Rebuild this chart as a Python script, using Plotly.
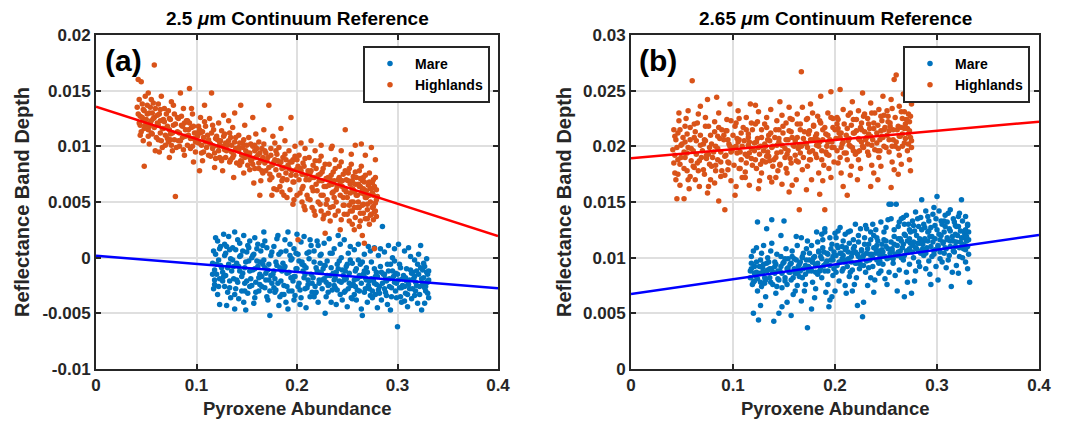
import plotly.graph_objects as go

# ---------------- data ----------------
# points as (x in thousandths of abundance, y in 1e-5 band-depth units)
MARE_A = [
(116,-150),(117,60),(118,-240),(119,180),(120,-60),(121,-330),(122,-20),(123,-420),(124,100),(118,-110),(121,150),(123,-190),(117,-280),(124,-70),
(126,-130),(127,210),(128,-260),(129,40),(130,-430),(131,-90),(132,190),(133,-210),(134,-10),(128,120),(131,-310),(133,70),(127,-170),(134,-360),
(136,90),(137,-190),(138,230),(139,-280),(140,-50),(141,160),(142,-370),(143,-120),(144,20),(138,-460),(141,-220),(143,130),(137,-80),(145,-300),
(146,-140),(147,200),(148,-230),(149,-470),(150,50),(151,-320),(152,-30),(153,150),(154,-190),(148,-90),(151,110),(153,-260),(147,-400),(155,0),
(156,-110),(157,-410),(158,180),(159,-220),(160,-30),(161,120),(162,-300),(163,-150),(164,60),(158,-360),(161,-80),(163,-240),(157,30),(165,-170),
(166,-60),(167,230),(168,-270),(169,-140),(170,90),(171,-380),(172,-200),(173,-520),(174,20),(168,150),(171,-110),(173,-300),(167,-20),(175,-230),
(176,-150),(177,100),(178,-310),(179,-40),(180,170),(181,-230),(182,-430),(183,-90),(184,50),(178,-190),(181,200),(183,-350),(177,-270),(185,-120),
(186,-50),(187,-250),(188,160),(189,-400),(190,-140),(191,230),(192,-300),(193,20),(194,-180),(188,-80),(191,-460),(193,120),(187,-330),(195,-10),
(196,-210),(197,80),(198,-340),(199,-100),(200,210),(201,-260),(202,-30),(203,-420),(204,140),(198,-170),(201,30),(203,-290),(197,-380),(205,-60),
(206,-120),(207,190),(208,-280),(209,-450),(210,40),(211,-200),(212,-10),(213,-350),(214,110),(208,-150),(211,-240),(213,160),(207,-70),(215,-310),
(216,-180),(217,60),(218,-320),(219,-90),(220,150),(221,-400),(222,-230),(223,20),(224,-130),(218,-260),(221,110),(223,-50),(217,-350),(225,-200),
(226,-100),(227,130),(228,-500),(229,-220),(230,-30),(231,-310),(232,170),(233,-160),(234,-400),(228,-70),(231,-250),(233,40),(227,-190),(235,-290),
(236,-140),(237,80),(238,-270),(239,-420),(240,-60),(241,200),(242,-210),(243,-330),(244,0),(238,-180),(241,-100),(243,120),(237,-250),(245,-380),
(246,-160),(247,160),(248,-300),(249,-80),(250,-440),(251,40),(252,-230),(253,-20),(254,-360),(248,-120),(251,-280),(253,100),(247,-200),(255,-50),
(256,-240),(257,70),(258,-120),(259,-380),(260,-190),(261,120),(262,-300),(263,-60),(264,-460),(258,-260),(261,-20),(263,-170),(257,-330),(265,-520),
(266,-150),(267,30),(268,-280),(269,-90),(270,-400),(271,100),(272,-210),(273,-340),(274,-40),(268,-180),(271,-250),(273,60),(267,-120),(275,-300),
(276,-200),(277,90),(278,-330),(279,-130),(280,-450),(281,20),(282,-260),(283,-80),(284,-380),(278,-170),(281,-290),(283,80),(277,-230),(285,280),
(286,-150),(287,50),(288,-310),(289,-210),(290,-420),(291,110),(292,-260),(293,-60),(294,-350),(288,-190),(291,-120),(293,-470),(287,-280),(295,0),
(296,-170),(297,80),(298,-300),(299,-230),(300,-620),(301,120),(302,-270),(303,-90),(304,-400),(298,-140),(301,-200),(303,-350),(297,-30),(305,-250),
(306,-160),(307,60),(308,-320),(309,-210),(310,-440),(311,90),(312,-280),(313,-110),(314,-370),(308,-180),(311,-240),(313,10),(307,-390),(315,-130),
(316,-190),(317,-20),(318,-300),(319,-120),(320,-410),(321,30),(322,-260),(323,-90),(324,-470),(318,-220),(321,-150),(323,110),(317,-340),(325,-240),
(326,-180),(327,-80),(328,-300),(329,-130),(330,-220),(331,-360),(326,-50),(328,-260),(330,-150),(327,-410),(329,-10),(331,-200),
(116,-50),(118,-200),(119,30),(120,-150),(122,-260),(123,80),(125,-90),(126,-210),(128,20),(129,-160),(130,100),(132,-60),(133,-270),(135,-120),
(136,-20),(138,-330),(139,70),(140,-200),(142,-80),(143,10),(145,-170),(146,60),(148,-300),(149,-40),(150,-210),(152,90),(153,-120),(155,-250),
(156,20),(158,-100),(159,-310),(160,80),(162,-180),(163,-40),(165,-260),(166,110),(168,-90),(169,-200),(170,-350),(172,-60),(174,-160),(175,50),
(177,-120),(179,-290),(180,-70),(182,30),(184,-210),(185,-330),(187,-100),(189,60),(190,-260),(192,-130),(194,-20),(195,-300),(197,-170),(199,40),
(200,-100),(202,-230),(204,-360),(205,-40),(207,-180),(209,-90),(210,-270),(212,50),(214,-150),(215,-230),(217,-40),(219,-310),(220,-120),(222,-200),
(224,30),(225,-280),(227,-70),(229,-350),(230,-160),(232,-240),(234,-90),(235,40),(237,-200),(239,-130),(240,-290),(242,-30),(244,-220),(245,-110),
(247,-310),(249,-190),(250,-60),(252,-140),(254,-250),(255,-370),(257,-200),(259,-100),(260,-290),(262,-160),(264,-230),(265,-40),(267,-310),(269,-200),
(270,-130),(272,-280),(274,-190),(275,-360),(277,-100),(279,-240),(280,-170),(282,-320),(284,-130),(285,-230),(287,-150),(289,-340),(290,-60),(292,-190),
(294,-270),(295,-120),(297,-220),(299,-360),(300,-150),(302,-60),(304,-270),(305,-190),(307,-260),(309,-100),(310,-330),(312,-200),(314,-140),(315,-280),
(317,-170),(319,-250),(320,-60),(322,-330),(324,-190),(325,-110),(327,-270),(329,-220),(330,-320),(331,-120),
]
HIGH_A = [
(41,1350),(42,1600),(43,1210),(44,1270),(45,1580),(45,1130),(46,1380),(47,1240),(48,820),(48,1320),(49,1190),(49,1450),(44,1100),(47,1050),
(51,1290),(52,1150),(52,1480),(53,1020),(54,1350),(55,1230),(56,1110),(57,1390),(58,1730),(58,1260),(59,960),(53,1180),(56,1300),(55,1420),
(61,1210),(62,1060),(62,1380),(63,1290),(64,1120),(65,1450),(66,990),(67,1240),(68,1340),(69,1100),(64,1230),(67,1160),(63,950),
(71,1180),(72,1320),(72,1040),(73,1250),(74,1110),(75,1400),(76,960),(77,1190),(78,1290),(79,550),(74,1060),(77,1370),(73,900),
(81,1130),(82,1250),(83,1000),(84,1480),(85,1190),(86,1080),(87,1340),(88,920),(89,1150),(85,1270),(82,1050),(88,1210),
(91,1230),(92,1100),(93,1520),(94,980),(95,1170),(96,1290),(97,860),(98,1120),(99,1040),(95,1340),(93,1210),(97,1070),
(101,1090),(102,1180),(103,780),(104,1260),(105,1010),(106,1130),(107,950),(108,1370),(109,1040),(104,1120),(106,870),(108,1220),
(111,1100),(112,920),(113,1250),(114,1020),(115,1480),(116,980),(117,1150),(118,810),(119,1070),(113,1030),(116,1190),(118,940),
(121,1060),(122,1210),(123,900),(124,1050),(125,1140),(126,780),(127,1280),(128,970),(129,1030),(124,890),(127,1090),(122,1000),
(131,1010),(132,1230),(133,860),(134,1080),(135,950),(136,1170),(137,720),(138,1040),(139,980),(133,1120),(136,900),(138,1300),
(141,980),(142,1100),(143,830),(144,1370),(145,920),(146,1030),(147,760),(148,1190),(149,960),(144,870),(147,1060),(142,990),
(151,940),(152,1080),(153,790),(154,1020),(155,880),(156,1260),(157,670),(158,960),(159,1110),(153,900),(156,840),(158,1010),
(161,920),(162,1040),(163,560),(164,870),(165,980),(166,760),(167,1150),(168,850),(169,940),(164,690),(167,1020),(162,800),
(171,900),(172,1370),(173,750),(174,980),(175,830),(176,1090),(177,620),(178,880),(179,960),(173,700),(176,840),(178,1030),
(181,870),(182,990),(183,640),(184,1160),(185,800),(186,900),(187,560),(188,1050),(189,760),(183,850),(186,710),(188,930),
(191,830),(192,960),(193,610),(194,1260),(195,780),(196,880),(197,520),(198,1000),(199,740),(193,860),(196,680),(198,910),
(201,160),(201,820),(202,920),(203,580),(204,1030),(205,750),(206,850),(207,460),(208,980),(209,700),(203,800),(206,640),(208,890),
(211,780),(212,900),(213,520),(214,1050),(215,720),(216,830),(217,420),(218,960),(219,660),(213,760),(216,600),(218,870),
(221,740),(222,870),(223,480),(224,1010),(225,690),(226,800),(227,380),(228,220),(229,640),(223,750),(226,560),(228,840),(224,910),
(231,720),(232,840),(233,450),(234,980),(235,660),(236,770),(237,540),(238,880),(239,610),(233,700),(236,590),(238,800),(235,1000),
(241,700),(242,820),(243,250),(244,960),(245,640),(246,750),(247,390),(248,1150),(249,590),(243,680),(246,540),(248,780),(244,860),(247,610),
(251,690),(252,800),(253,420),(254,930),(255,620),(256,730),(257,250),(258,1010),(259,560),(253,660),(256,500),(258,770),(254,840),(257,590),(252,470),
(261,660),(262,780),(263,400),(264,1020),(265,600),(266,720),(267,130),(268,920),(269,540),(263,640),(266,480),(268,740),(264,820),(267,570),(262,450),(265,690),
(271,650),(272,760),(273,380),(274,990),(275,580),(276,700),(277,80),(278,880),(279,520),(273,620),(276,460),(278,720),(272,560),(275,670),(277,410),
(42,1290),(43,1420),(44,1190),(46,1260),(47,1330),(48,1160),(50,1240),(51,1370),(52,1090),(53,1300),(54,1210),(55,1120),(57,1250),(58,1170),
(59,1340),(60,1080),(61,1280),(62,1190),(64,1330),(65,1050),(66,1160),(68,1220),(69,1010),(70,1290),(71,1070),(73,1150),(74,1240),(75,1010),
(76,1120),(78,1060),(79,1200),(80,990),(81,1260),(83,1120),(84,1050),(86,1180),(87,970),(89,1090),(90,1230),(91,1010),(92,1150),(94,1070),
(96,1000),(97,1180),(99,950),(100,1120),(102,1030),(103,1150),(105,940),(107,1080),(109,1180),(110,990),(112,1060),(114,910),(115,1120),(117,1000),
(119,890),(120,1090),(122,960),(123,1040),(125,870),(126,1000),(128,1110),(129,900),(130,960),(132,1050),(134,880),(135,1010),(137,920),(139,1080),
(140,850),(142,960),(143,1030),(145,860),(146,990),(148,900),(150,1010),(151,830),(153,940),(154,870),(156,1000),(158,800),(159,900),(160,980),
(162,850),(163,940),(165,780),(166,900),(168,960),(169,780),(170,870),(172,810),(174,920),(175,720),(177,860),(179,790),(180,930),(182,740),
(184,860),(185,690),(187,810),(189,880),(190,700),(192,800),(194,740),(195,860),(197,680),(199,790),(200,880),(202,700),(204,780),(205,620),
(207,820),(209,740),(210,560),(212,700),(214,780),(215,630),(217,720),(219,800),(220,600),(222,690),(224,560),(225,770),(227,640),(229,710),
(230,520),(232,650),(234,740),(235,580),(237,690),(239,500),(240,640),(242,720),(243,560),(245,690),(246,470),(248,620),(249,700),(250,540),
(251,760),(253,580),(254,500),(255,690),(256,610),(257,450),(258,660),(259,720),(260,560),(261,500),(262,640),(263,710),(264,580),(265,470),
(266,620),(267,680),(268,540),(269,600),(270,480),(271,560),(272,680),(273,500),(274,620),(275,450),(276,560),(277,640),(278,490),(279,610),
(280,550),(255,300),(262,280),(270,350),(265,200),
(215,450),(218,380),(221,500),(224,420),(226,350),(229,480),(231,400),(233,330),(236,460),(238,380),(241,420),(244,340),(247,470),(250,390),
(252,330),(255,420),(258,360),(260,450),(263,330),(266,400),(268,350),(270,430),(272,300),(274,390),(276,340),(278,420),(279,370),(205,500),
(208,430),(211,530),(200,560),(196,480),(190,540),(185,590),(180,610),(175,560),
]
MARE_B = [
(117,880),(118,1010),(119,760),(120,500),(121,920),(122,840),(123,1090),(124,700),(125,440),(118,950),(121,790),(123,870),(120,1060),(124,1320),
(126,860),(127,980),(128,740),(129,910),(130,1110),(131,820),(132,650),(133,1260),(134,890),(128,1040),(131,770),(133,950),(127,570),(134,1000),
(136,900),(137,780),(138,1130),(139,870),(140,430),(141,960),(142,680),(143,1030),(144,810),(138,1340),(141,920),(143,740),(137,1060),(145,500),
(146,880),(147,1010),(148,730),(149,950),(150,1330),(151,820),(152,1080),(153,600),(154,910),(148,560),(151,990),(153,760),(147,1200),(155,870),
(156,940),(157,800),(158,1060),(159,670),(160,990),(161,860),(162,1190),(163,750),(164,920),(158,1010),(161,700),(163,1110),(157,480),(165,830),
(166,960),(167,1180),(168,820),(169,1040),(170,700),(171,930),(172,1080),(173,370),(174,880),(168,1010),(171,760),(173,1150),(167,610),(175,980),
(176,900),(177,1110),(178,780),(179,1000),(180,640),(181,930),(182,1230),(183,850),(184,1050),(178,960),(181,720),(183,1140),(177,540),(185,880),
(186,1010),(187,820),(188,1160),(189,930),(190,1260),(191,690),(192,1040),(193,880),(194,560),(188,1090),(191,950),(193,760),(187,1210),(195,620),
(196,980),(197,1120),(198,840),(199,1050),(200,700),(201,1180),(202,930),(203,1090),(204,790),(198,1010),(201,870),(203,1240),(197,650),(205,960),
(206,1040),(207,880),(208,1150),(209,960),(210,750),(211,1090),(212,920),(213,1230),(214,830),(208,1020),(211,680),(213,990),(207,1100),(215,870),
(216,1010),(217,890),(218,1160),(219,760),(220,1050),(221,950),(222,570),(223,1200),(224,900),(218,1080),(221,820),(223,1010),(217,700),(225,940),
(226,1060),(227,470),(228,930),(229,1180),(230,870),(231,1040),(232,750),(233,1120),(234,980),(228,600),(231,1260),(233,910),(227,1000),(235,820),
(236,1030),(237,920),(238,1200),(239,800),(240,1080),(241,980),(242,1150),(243,860),(244,1020),(238,690),(241,1110),(243,950),(237,1300),(245,880),
(246,1070),(247,940),(248,1230),(249,810),(250,1100),(251,990),(252,1340),(253,870),(254,1040),(248,1160),(251,760),(253,1480),(247,1010),(255,1480),
(256,1080),(257,950),(258,1250),(259,840),(260,1480),(261,1020),(262,1170),(263,890),(264,1060),(258,1120),(261,700),(263,1320),(257,990),(265,1150),
(266,1090),(267,980),(268,650),(269,1200),(270,870),(271,1060),(272,1300),(273,940),(274,1130),(268,1020),(271,780),(273,1170),(267,1360),(275,680),
(276,1110),(277,1000),(278,1240),(279,880),(280,1080),(281,1350),(282,960),(283,1170),(284,1040),(278,790),(281,1130),(283,920),(277,1290),(285,1520),
(286,1120),(287,1020),(288,1270),(289,900),(290,1090),(291,1370),(292,970),(293,1190),(294,760),(288,1060),(291,1230),(293,850),(287,1150),(295,1010),
(296,1140),(297,1030),(298,1290),(299,920),(300,1550),(301,1100),(302,1210),(303,990),(304,1330),(298,1070),(301,800),(303,1160),(297,1450),(305,960),
(306,1130),(307,1040),(308,1280),(309,910),(310,1180),(311,1400),(312,1020),(313,1240),(314,740),(308,1090),(311,980),(313,1150),(307,1330),(315,870),
(316,1150),(317,1050),(318,1290),(319,930),(320,1200),(321,1370),(322,1010),(323,1240),(324,1520),(318,1100),(321,860),(323,1140),(317,1320),(325,1000),
(326,1080),(327,1220),(328,960),(329,1150),(330,1300),(331,1030),(332,780),(326,1180),(328,1250),(330,900),(327,1110),(331,1230),
(117,820),(118,900),(120,780),(121,860),(123,960),(124,810),(126,920),(127,780),(129,870),(130,940),(132,800),(133,880),(135,960),(136,820),
(138,900),(139,760),(141,860),(142,940),(144,880),(145,800),(147,920),(148,860),(150,960),(151,790),(153,900),(154,990),(156,870),(157,950),
(159,820),(160,900),(162,980),(163,860),(165,940),(166,880),(168,1000),(169,900),(171,850),(172,980),(174,920),(175,1040),(177,880),(178,960),
(180,1010),(181,870),(183,950),(184,1060),(186,910),(187,990),(189,1050),(190,880),(192,970),(193,1030),(195,930),(196,1080),(198,980),(199,900),
(201,1020),(202,1110),(204,960),(205,1040),(207,990),(208,900),(210,1070),(211,980),(213,1050),(214,1130),(216,960),(217,1040),(219,1100),(220,950),
(222,1030),(223,1140),(225,990),(226,1070),(228,1020),(229,1120),(231,970),(232,1080),(234,1030),(235,1160),(237,1000),(238,1090),(240,1040),(241,1180),
(243,1060),(244,970),(246,1120),(247,1050),(249,1010),(250,1150),(252,1080),(253,1000),(255,1140),(256,1060),(258,1190),(259,1030),(261,1110),(262,1050),
(264,1170),(265,1000),(267,1120),(268,1210),(270,1060),(271,1150),(273,1080),(274,1230),(276,1050),(277,1140),(279,1090),(280,1200),(282,1060),(283,1130),
(285,1250),(286,1080),(288,1170),(289,1040),(291,1150),(292,1240),(294,1100),(295,1190),(297,1060),(298,1170),(300,1250),(301,1110),(303,1050),(304,1200),
(306,1140),(307,1230),(309,1080),(310,1160),(312,1260),(313,1100),(315,1190),(316,1060),(318,1210),(319,1140),(321,1280),(322,1090),(324,1180),(325,1120),
(327,1240),(328,1070),(329,1190),(330,1100),(331,1160),
(262,1280),(265,1350),(268,1300),(270,1380),(273,1250),(276,1330),(279,1410),(282,1280),(284,1360),(287,1300),(289,1420),(292,1330),(294,1270),(296,1390),
(299,1350),(302,1420),(305,1300),(308,1380),(310,1320),(313,1430),(316,1350),(319,1280),(322,1400),(325,1330),(328,1370),(330,1290),(240,1250),(245,1320),
(250,1270),(255,1350),(235,1230),(230,1290),(225,1260),(220,1300),(215,1240),(210,1210),(205,1270),(200,1220),(195,1180),(190,1230),
]
HIGH_B = [
(41,1970),(42,2150),(43,1760),(44,2060),(45,1530),(46,1880),(47,2230),(48,1650),(49,2010),(43,1920),(46,2120),(48,1840),(44,1700),(47,2300),
(51,2080),(52,1530),(53,1900),(54,2250),(55,1780),(56,1990),(57,1620),(58,2170),(59,1870),(53,2040),(56,2320),(58,1730),(52,1950),(55,2110),
(60,2590),(61,1960),(62,2200),(63,1700),(64,2050),(65,1850),(66,2290),(67,1640),(68,2010),(69,1900),(63,2130),(66,1780),(68,2360),(62,1810),
(71,2020),(72,1750),(73,2180),(74,1890),(75,2420),(76,1640),(77,1990),(78,2100),(79,1820),(73,2260),(76,1930),(78,1700),(72,2060),(75,1580),
(81,1950),(82,2220),(83,1780),(84,2440),(85,1880),(86,1510),(87,2070),(88,1730),(89,2150),(83,2000),(86,2300),(88,1860),(82,1670),(85,2090),
(91,2100),(92,1430),(93,1920),(94,2240),(95,1790),(96,2020),(97,2380),(98,1690),(99,1960),(93,2140),(96,1850),(98,2230),(92,1740),(95,2060),
(101,1990),(102,2180),(103,1640),(104,2070),(105,2320),(106,1800),(107,1950),(108,2120),(109,1720),(103,2000),(106,2250),(108,1880),(102,1560),(105,2040),
(111,2050),(112,1770),(113,2260),(114,1910),(115,2080),(116,1650),(117,2380),(118,1980),(119,1830),(113,2150),(116,1940),(118,2210),(112,1720),(115,2010),
(121,1960),(122,2200),(123,1800),(124,2070),(125,2310),(126,1690),(127,2000),(128,2150),(129,1870),(123,2040),(126,1930),(128,1760),(122,2370),(125,1620),
(131,2020),(132,1860),(133,2260),(134,1950),(135,2100),(136,1720),(137,2330),(138,1990),(139,1820),(133,2170),(136,2050),(138,1680),(132,2000),(135,1910),
(141,2080),(142,1900),(143,2230),(144,1780),(145,2040),(146,2400),(147,1950),(148,1660),(149,2120),(143,2010),(146,1840),(148,2280),(142,1720),(145,2150),
(151,1980),(152,2210),(153,1760),(154,2060),(155,2350),(156,1890),(157,2130),(158,1650),(159,2010),(153,1930),(156,2250),(158,2080),(152,1800),(155,1590),
(161,2050),(162,1870),(163,2290),(164,1980),(165,1430),(166,2150),(167,2670),(168,1790),(169,2070),(163,2200),(166,1940),(168,2350),(162,1700),(165,2010),
(171,2030),(172,2240),(173,1820),(174,2110),(175,1950),(176,2380),(177,1700),(178,2060),(179,2190),(173,1990),(176,1880),(178,2300),(172,1610),(175,2140),
(181,2090),(182,1900),(183,2270),(184,1760),(185,2040),(186,2450),(187,1960),(188,2150),(189,1830),(183,2060),(186,2210),(188,1690),(182,2010),(185,1570),
(190,1430),(191,2110),(192,1930),(193,2300),(194,1800),(195,2060),(196,2490),(197,1990),(198,2170),(199,1860),(193,2040),(196,1720),(198,2250),(192,2000),
(201,2070),(202,2200),(203,1850),(204,2120),(205,2510),(206,1760),(207,2020),(208,2330),(209,1940),(203,2160),(206,1990),(208,1640),(202,2260),(205,2080),
(211,2100),(212,1880),(213,2280),(214,2010),(215,1740),(216,2190),(217,2400),(218,1960),(219,2120),(213,2050),(216,1820),(218,2240),(212,1560),(215,2000),
(221,2140),(222,1950),(223,2320),(224,2060),(225,1800),(226,2210),(227,2480),(228,1990),(229,2130),(223,1880),(226,2040),(228,2270),(222,1700),(225,2170),
(231,2080),(232,2250),(233,1920),(234,2160),(235,2390),(236,1830),(237,2060),(238,2210),(239,1970),(233,2110),(236,2300),(238,1760),(232,2020),(235,1640),
(241,2120),(242,1960),(243,2330),(244,2060),(245,1820),(246,2230),(247,2450),(248,2000),(249,2170),(243,1900),(246,2090),(248,2280),(242,1700),(245,2140),
(251,2100),(252,2270),(253,1950),(254,2180),(255,2420),(256,1860),(257,2060),(258,2600),(259,2000),(253,2140),(256,2340),(258,1790),(252,2220),(255,1630),
(260,2640),(261,2150),(262,1980),(263,2360),(264,2090),(265,1840),(266,2250),(267,2470),(268,2030),(269,2200),(263,1920),(266,2110),(268,2310),(262,1750),(265,2170),
(271,2160),(272,2290),(273,1880),(274,2080),(275,2380),(271,1960),(273,2220),(274,1780),(275,2050),(272,2110),
(42,1850),(43,2090),(45,1990),(46,1750),(48,2150),(49,1900),(50,2020),(52,1800),(53,2180),(55,1940),(56,1700),(58,2060),(59,1980),(61,1820),
(62,2080),(64,1930),(65,2210),(67,1870),(68,2100),(70,1960),(71,1790),(73,2050),(74,1920),(76,2180),(77,1840),(79,2020),(80,1900),(82,2130),
(83,1830),(85,1980),(86,2170),(88,1950),(89,1780),(91,2060),(92,1910),(94,2140),(95,1860),(97,2000),(98,1950),(100,2100),(101,1830),(103,2210),
(104,1940),(106,2060),(107,1800),(109,2000),(110,2170),(112,1930),(113,1850),(115,2110),(116,2040),(118,1890),(119,2150),(121,2030),(122,1880),(124,2220),
(125,1990),(127,1840),(128,2080),(130,1960),(131,2200),(133,1910),(134,2060),(136,1870),(137,2120),(139,2000),(140,1880),(142,2150),(143,1940),(145,2070),
(146,1830),(148,2010),(149,2180),(151,1900),(152,2060),(154,1960),(155,2140),(157,1850),(158,2240),(160,2000),(161,1920),(163,2080),(164,1860),(166,2200),
(167,2000),(169,1900),(170,2130),(172,2020),(173,2250),(175,1880),(176,2060),(178,1960),(179,2180),(181,1930),(182,2110),(184,2000),(185,2230),(187,1880),
(188,2060),(190,2170),(191,1950),(193,2100),(194,1920),(196,2260),(197,2040),(199,1990),(200,2150),(202,1960),(203,2240),(205,1900),(206,2120),(208,2040),
(209,2200),(211,1940),(212,2160),(214,2070),(215,2300),(217,1990),(218,2120),(220,1930),(221,2240),(223,2070),(224,1960),(226,2150),(227,2000),(229,2290),
(230,2060),(232,1950),(233,2200),(235,2090),(236,2010),(238,2160),(239,2300),(241,2030),(242,2190),(244,1960),(245,2270),(247,2080),(248,2150),(250,1990),
(251,2320),(253,2060),(254,2210),(256,2000),(257,2150),(259,2260),(260,2040),(262,2180),(263,2090),(265,2310),(266,2000),(268,2160),(269,2070),(270,2240),
(272,2020),(273,2140),(274,2270),(275,1990),
]

# regression lines (endpoints at x = 0 and x = 0.4)
FIT_X = [0.0, 0.4]
FIT_MARE_A = [0.00018, -0.00275]
FIT_HIGH_A = [0.01356, 0.00195]
FIT_MARE_B = [0.00674, 0.01204]
FIT_HIGH_B = [0.01892, 0.02221]

X_TICKS = [0, 0.1, 0.2, 0.3, 0.4]
X_TICKTEXT = ["0", "0.1", "0.2", "0.3", "0.4"]
YA_TICKS = [-0.01, -0.005, 0, 0.005, 0.01, 0.015, 0.02]
YA_TICKTEXT = ["-0.01", "-0.005", "0", "0.005", "0.01", "0.015", "0.02"]
YB_TICKS = [0, 0.005, 0.01, 0.015, 0.02, 0.025, 0.03]
YB_TICKTEXT = ["0", "0.005", "0.01", "0.015", "0.02", "0.025", "0.03"]

TITLES = ["2.5 <i>μ</i>m Continuum Reference", "2.65 <i>μ</i>m Continuum Reference"]
PANEL_LABELS = ["(a)", "(b)"]


def xs(pts):
    return [p[0] / 1000.0 for p in pts]


def ys(pts):
    return [p[1] / 100000.0 for p in pts]


# ---------------- styling ----------------
BLUE = "#0072BD"
ORANGE = "#D95319"
FONT = "Liberation Sans"
AX = "#262626"
W, H = 1082, 421

fig = go.Figure()

for pts, name, col, xa, ya, leg in [
    (MARE_A, "Mare", BLUE, "x", "y", "legend"),
    (HIGH_A, "Highlands", ORANGE, "x", "y", "legend"),
    (MARE_B, "Mare", BLUE, "x2", "y2", "legend2"),
    (HIGH_B, "Highlands", ORANGE, "x2", "y2", "legend2"),
]:
    fig.add_trace(go.Scatter(
        x=xs(pts), y=ys(pts), mode="markers", name=name,
        marker=dict(color=col, size=5.5, line=dict(width=0)),
        xaxis=xa, yaxis=ya, legend=leg, showlegend=True))

for yv, col, xa, ya in [
    (FIT_HIGH_A, "#FF0000", "x", "y"),
    (FIT_MARE_A, "#0000FF", "x", "y"),
    (FIT_HIGH_B, "#FF0000", "x2", "y2"),
    (FIT_MARE_B, "#0000FF", "x2", "y2"),
]:
    fig.add_trace(go.Scatter(
        x=FIT_X, y=yv, mode="lines", line=dict(color=col, width=2.5),
        xaxis=xa, yaxis=ya, showlegend=False, hoverinfo="skip"))


def px_x(p):
    return p / W


def px_y(p):
    return (H - p) / H


tickfont = dict(family=FONT, size=17, color=AX, weight="bold")
axis_common = dict(
    showline=True, linecolor=AX, linewidth=2, mirror="allticks",
    ticks="inside", ticklen=5, tickwidth=1.5, tickcolor=AX,
    showgrid=True, gridcolor="#dfdfdf", gridwidth=1.5, zeroline=False,
    tickfont=tickfont, automargin=False,
)

dom_a = [px_x(96), px_x(498)]
dom_b = [px_x(631), px_x(1039)]
dom_y = [px_y(369), px_y(35)]

legend_style = dict(xanchor="right", yanchor="top",
                    bordercolor=AX, borderwidth=2, bgcolor="white",
                    font=dict(family=FONT, size=14, color="black", weight="bold"),
                    itemsizing="trace", tracegroupgap=0, itemwidth=40)

fig.update_layout(
    width=W, height=H, margin=dict(l=0, r=0, t=0, b=0),
    paper_bgcolor="white", plot_bgcolor="white",
    xaxis=dict(domain=dom_a, range=[0, 0.4], tickvals=X_TICKS, ticktext=X_TICKTEXT, anchor="y", **axis_common),
    yaxis=dict(domain=dom_y, range=[-0.01, 0.02], tickvals=YA_TICKS, ticktext=YA_TICKTEXT, anchor="x", **axis_common),
    xaxis2=dict(domain=dom_b, range=[0, 0.4], tickvals=X_TICKS, ticktext=X_TICKTEXT, anchor="y2", **axis_common),
    yaxis2=dict(domain=dom_y, range=[0, 0.03], tickvals=YB_TICKS, ticktext=YB_TICKTEXT, anchor="x2", **axis_common),
    legend=dict(x=px_x(490), y=px_y(46), **legend_style),
    legend2=dict(x=px_x(1030), y=px_y(46), **legend_style),
    showlegend=True,
)

annots = []
for cx, title, lab, labx in [
    ((96 + 498) / 2, TITLES[0], PANEL_LABELS[0], 124),
    ((631 + 1039) / 2, TITLES[1], PANEL_LABELS[1], 658),
]:
    annots.append(dict(x=px_x(cx), y=px_y(18), xref="paper", yref="paper", text=title,
                       showarrow=False, xanchor="center", yanchor="middle",
                       font=dict(family=FONT, size=19, color="black", weight="bold")))
    annots.append(dict(x=px_x(cx), y=px_y(408), xref="paper", yref="paper", text="Pyroxene Abundance",
                       showarrow=False, xanchor="center", yanchor="middle",
                       font=dict(family=FONT, size=18.5, color=AX, weight="bold")))
    annots.append(dict(x=px_x(labx), y=px_y(60), xref="paper", yref="paper", text=lab,
                       showarrow=False, xanchor="center", yanchor="middle",
                       font=dict(family=FONT, size=30, color="black", weight="bold")))
for yx in (22, 564):
    annots.append(dict(x=px_x(yx), y=px_y(202), xref="paper", yref="paper", text="Reflectance Band Depth",
                       showarrow=False, textangle=-90, xanchor="center", yanchor="middle",
                       font=dict(family=FONT, size=20, color=AX, weight="bold")))
fig.update_layout(annotations=annots)

fig.write_html("out.html")
